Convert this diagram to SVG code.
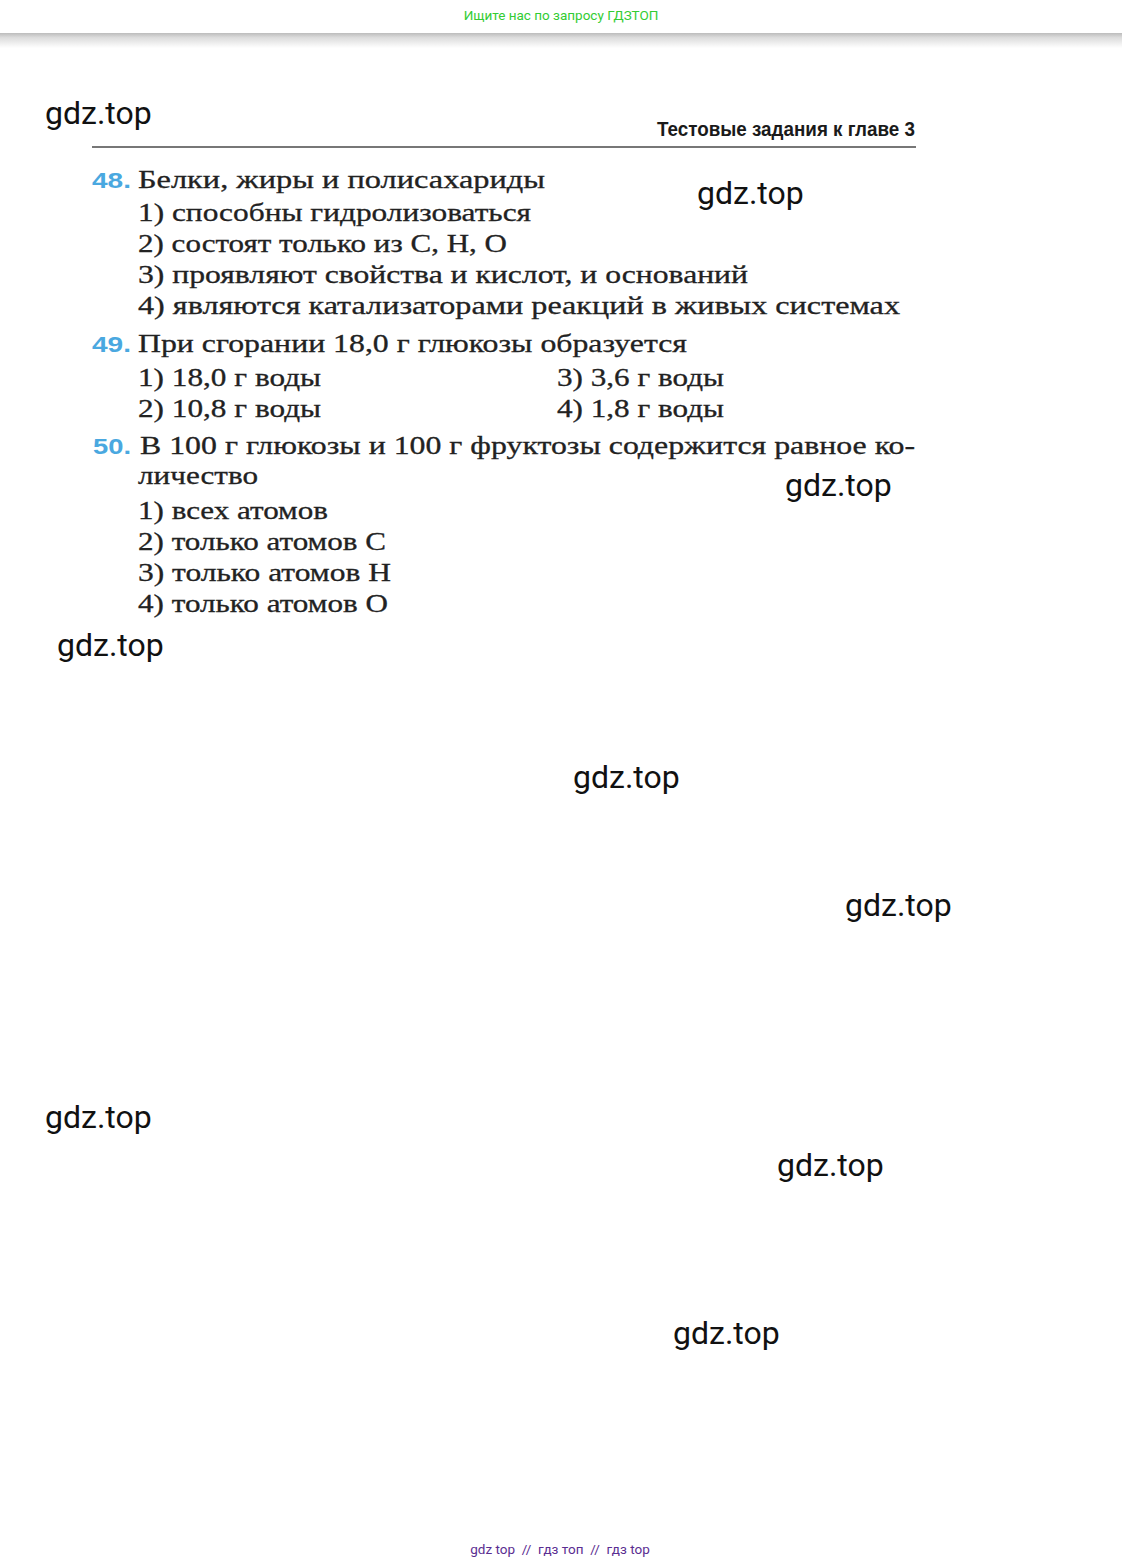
<svg xmlns="http://www.w3.org/2000/svg" width="1122" height="1567" viewBox="0 0 1122 1567">
<defs>
<linearGradient id="sh" x1="0" y1="0" x2="0" y2="1">
<stop offset="0" stop-color="#b5b5b5"/>
<stop offset="0.35" stop-color="#dcdcdc"/>
<stop offset="1" stop-color="#ffffff"/>
</linearGradient>
<style>
.q{font-family:"Liberation Serif",serif;font-size:26px;fill:#222;stroke:#222;stroke-width:0.3}
.n{font-family:"Liberation Sans",sans-serif;font-weight:bold;font-size:22px;fill:#4aa8e0}
.w{font-family:Roboto,"Liberation Sans",sans-serif;font-size:32px;fill:#111}
</style>
</defs>
<rect width="1122" height="1567" fill="#fff"/>
<g id="banner">
<rect x="0" y="32" width="1122" height="16" fill="url(#sh)"/>
<rect x="0" y="0" width="1122" height="33" fill="#fff"/>
<text x="561" y="20" text-anchor="middle" font-family="Roboto,sans-serif" font-size="13.5" fill="#33cc33">Ищите нас по запросу ГДЗТОП</text>
</g>
<g id="header">
<text x="915" y="136" text-anchor="end" font-family="'Liberation Sans',sans-serif" font-weight="bold" font-size="20" fill="#1a1a1a" textLength="258" lengthAdjust="spacingAndGlyphs">Тестовые задания к главе 3</text>
<line x1="92" y1="147" x2="916" y2="147" stroke="#777" stroke-width="2"/>
</g>
<g id="q48">
<text class="n" x="92" y="188" textLength="39" lengthAdjust="spacingAndGlyphs">48.</text>
<text class="q" x="138" y="188" textLength="407" lengthAdjust="spacingAndGlyphs">Белки, жиры и полисахариды</text>
<text class="q" x="138" y="221" textLength="393" lengthAdjust="spacingAndGlyphs">1) способны гидролизоваться</text>
<text class="q" x="138" y="252" textLength="369" lengthAdjust="spacingAndGlyphs">2) состоят только из C, H, O</text>
<text class="q" x="138" y="283" textLength="610" lengthAdjust="spacingAndGlyphs">3) проявляют свойства и кислот, и оснований</text>
<text class="q" x="138" y="314" textLength="762" lengthAdjust="spacingAndGlyphs">4) являются катализаторами реакций в живых системах</text>
</g>
<g id="q49">
<text class="n" x="92" y="352" textLength="39" lengthAdjust="spacingAndGlyphs">49.</text>
<text class="q" x="138" y="352" textLength="549" lengthAdjust="spacingAndGlyphs">При сгорании 18,0 г глюкозы образуется</text>
<text class="q" x="138" y="386" textLength="183" lengthAdjust="spacingAndGlyphs">1) 18,0 г воды</text>
<text class="q" x="557" y="386" textLength="167" lengthAdjust="spacingAndGlyphs">3) 3,6 г воды</text>
<text class="q" x="138" y="417" textLength="183" lengthAdjust="spacingAndGlyphs">2) 10,8 г воды</text>
<text class="q" x="557" y="417" textLength="167" lengthAdjust="spacingAndGlyphs">4) 1,8 г воды</text>
</g>
<g id="q50">
<text class="n" x="93" y="454" textLength="38" lengthAdjust="spacingAndGlyphs">50.</text>
<text class="q" x="140" y="454" textLength="775" lengthAdjust="spacingAndGlyphs">В 100 г глюкозы и 100 г фруктозы содержится равное ко-</text>
<text class="q" x="138" y="484" textLength="120" lengthAdjust="spacingAndGlyphs">личество</text>
<text class="q" x="138" y="519" textLength="190" lengthAdjust="spacingAndGlyphs">1) всех атомов</text>
<text class="q" x="138" y="550" textLength="248" lengthAdjust="spacingAndGlyphs">2) только атомов C</text>
<text class="q" x="138" y="581" textLength="253" lengthAdjust="spacingAndGlyphs">3) только атомов H</text>
<text class="q" x="138" y="612" textLength="250" lengthAdjust="spacingAndGlyphs">4) только атомов O</text>
</g>
<g id="watermarks">
<text class="w" x="45" y="124">gdz.top</text>
<text class="w" x="697" y="204">gdz.top</text>
<text class="w" x="785" y="496">gdz.top</text>
<text class="w" x="57" y="656">gdz.top</text>
<text class="w" x="573" y="788">gdz.top</text>
<text class="w" x="845" y="916">gdz.top</text>
<text class="w" x="45" y="1128">gdz.top</text>
<text class="w" x="777" y="1176">gdz.top</text>
<text class="w" x="673" y="1344">gdz.top</text>
</g>
<g id="footer">
<text x="560" y="1554" text-anchor="middle" font-family="Roboto,sans-serif" font-size="13.5" fill="#5a2d91" xml:space="preserve">gdz top  //  гдз топ  //  гдз top</text>
</g>
</svg>
